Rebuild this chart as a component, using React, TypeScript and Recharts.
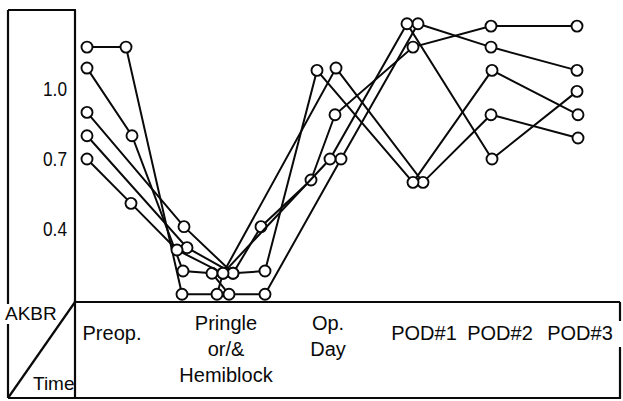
import { Scatter, ScatterChart, XAxis, YAxis } from "recharts";

// time axis runs Preop -> POD#3 (arbitrary units along the bottom table)
const case1Time = [2.4, 10.2, 21.4, 28.4, 29.6, 52.2, 69.6, 83.2, 100.6];
const case1Akbr = [1.18, 1.18, 0.12, 0.12, 0.21, 1.09, 0.6, 0.89, 0.79];

const case2Time = [2.4, 11.4, 21.6, 27.4, 30.8, 38, 53.2, 68.6, 83.2, 100.4];
const case2Akbr = [1.09, 0.8, 0.22, 0.21, 0.12, 0.12, 0.7, 1.28, 1.18, 1.08];

const case3Time = [2.4, 21.8, 31.6, 38, 48.4, 67.6, 83.4, 100.6];
const case3Akbr = [0.9, 0.41, 0.21, 0.22, 1.08, 0.6, 1.08, 0.89];

const case4Time = [2.4, 22.4, 31.6, 37.2, 47.2, 52, 67.6, 83.2, 100.4];
const case4Akbr = [0.8, 0.32, 0.21, 0.41, 0.61, 0.89, 1.18, 1.27, 1.27];

const case5Time = [2.4, 11.2, 20.4, 29.6, 51, 66.4, 83.4, 100.4];
const case5Akbr = [0.7, 0.51, 0.31, 0.21, 0.7, 1.28, 0.7, 0.99];

const akbrTicks = [0.4, 0.7, 1.0];
const timeTicks = [7.4, 30.2, 50.6, 69.8, 85, 101];
const timeLabels = ["Preop.", "Pringle\nor/&\nHemiblock", "Op.\nDay", "POD#1", "POD#2", "POD#3"];

const cases = [
  { time: case1Time, akbr: case1Akbr },
  { time: case2Time, akbr: case2Akbr },
  { time: case3Time, akbr: case3Akbr },
  { time: case4Time, akbr: case4Akbr },
  { time: case5Time, akbr: case5Akbr },
].map((c) => c.time.map((t, i) => ({ t, v: c.akbr[i] })));

const W = 623;
const H = 401;
const INK = "#0a0a0a";
const SANS = "'Liberation Sans', Arial, sans-serif";

function Dot(props: any) {
  return <circle cx={props.cx} cy={props.cy} r={5.5} fill="#fff" stroke={INK} strokeWidth={1.9} />;
}

function AkbrTick({ y, payload }: any) {
  return (
    <text
      x={67}
      y={y}
      dy={7}
      textAnchor="end"
      fontFamily={SANS}
      fontSize={20}
      textLength={24}
      lengthAdjust="spacingAndGlyphs"
      fill={INK}
    >
      {Number(payload.value).toFixed(1)}
    </text>
  );
}

function TimeTick({ x, payload }: any) {
  const idx = timeTicks.indexOf(payload.value);
  const lines = (timeLabels[idx] ?? "").split("\n");
  const first = lines.length === 1 ? 340 : 330;
  return (
    <text textAnchor="middle" fontFamily={SANS} fontSize={20} fill={INK}>
      {lines.map((l, i) => (
        <tspan key={i} x={x} y={first + i * 26}>
          {l}
        </tspan>
      ))}
    </text>
  );
}

export default function App() {
  return (
    <div style={{ position: "absolute", left: 0, top: 0, width: W, height: H, background: "#fff" }}>
      <ScatterChart width={W} height={H} margin={{ top: 10, right: 3, bottom: 3, left: 0 }}>
        <XAxis
          type="number"
          dataKey="t"
          domain={[0, 109]}
          ticks={timeTicks}
          tick={<TimeTick />}
          tickLine={false}
          axisLine={{ stroke: INK, strokeWidth: 2.2 }}
          height={96}
          interval={0}
        />
        <YAxis
          type="number"
          dataKey="v"
          domain={[0.087, 1.339]}
          ticks={akbrTicks}
          tick={<AkbrTick />}
          tickLine={false}
          axisLine={{ stroke: INK, strokeWidth: 2.2 }}
          width={75}
          allowDataOverflow
        />
        {cases.map((data, i) => (
          <Scatter
            key={i}
            data={data}
            line={{ stroke: INK, strokeWidth: 2 }}
            lineJointType="linear"
            shape={<Dot />}
            isAnimationActive={false}
          />
        ))}
      </ScatterChart>
      <svg
        width={W}
        height={H}
        style={{ position: "absolute", left: 0, top: 0, pointerEvents: "none" }}
      >
        <g stroke={INK} strokeWidth={2.2} fill="none">
          <line x1={8} y1={10} x2={76} y2={10} />
          <line x1={8} y1={10} x2={8} y2={304} />
          <line x1={8} y1={324} x2={8} y2={398} />
          <line x1={75} y1={300} x2={75} y2={398} />
          <line x1={8} y1={398} x2={621} y2={398} />
          <line x1={620} y1={302} x2={620} y2={321} />
          <line x1={620} y1={347} x2={620} y2={398} />
          <line x1={8} y1={398} x2={75} y2={302} />
        </g>
        <text x={5} y={320} fontFamily={SANS} fontSize={19} fill={INK}>
          AKBR
        </text>
        <text x={33} y={390} fontFamily={SANS} fontSize={19} fill={INK}>
          Time
        </text>
      </svg>
    </div>
  );
}
